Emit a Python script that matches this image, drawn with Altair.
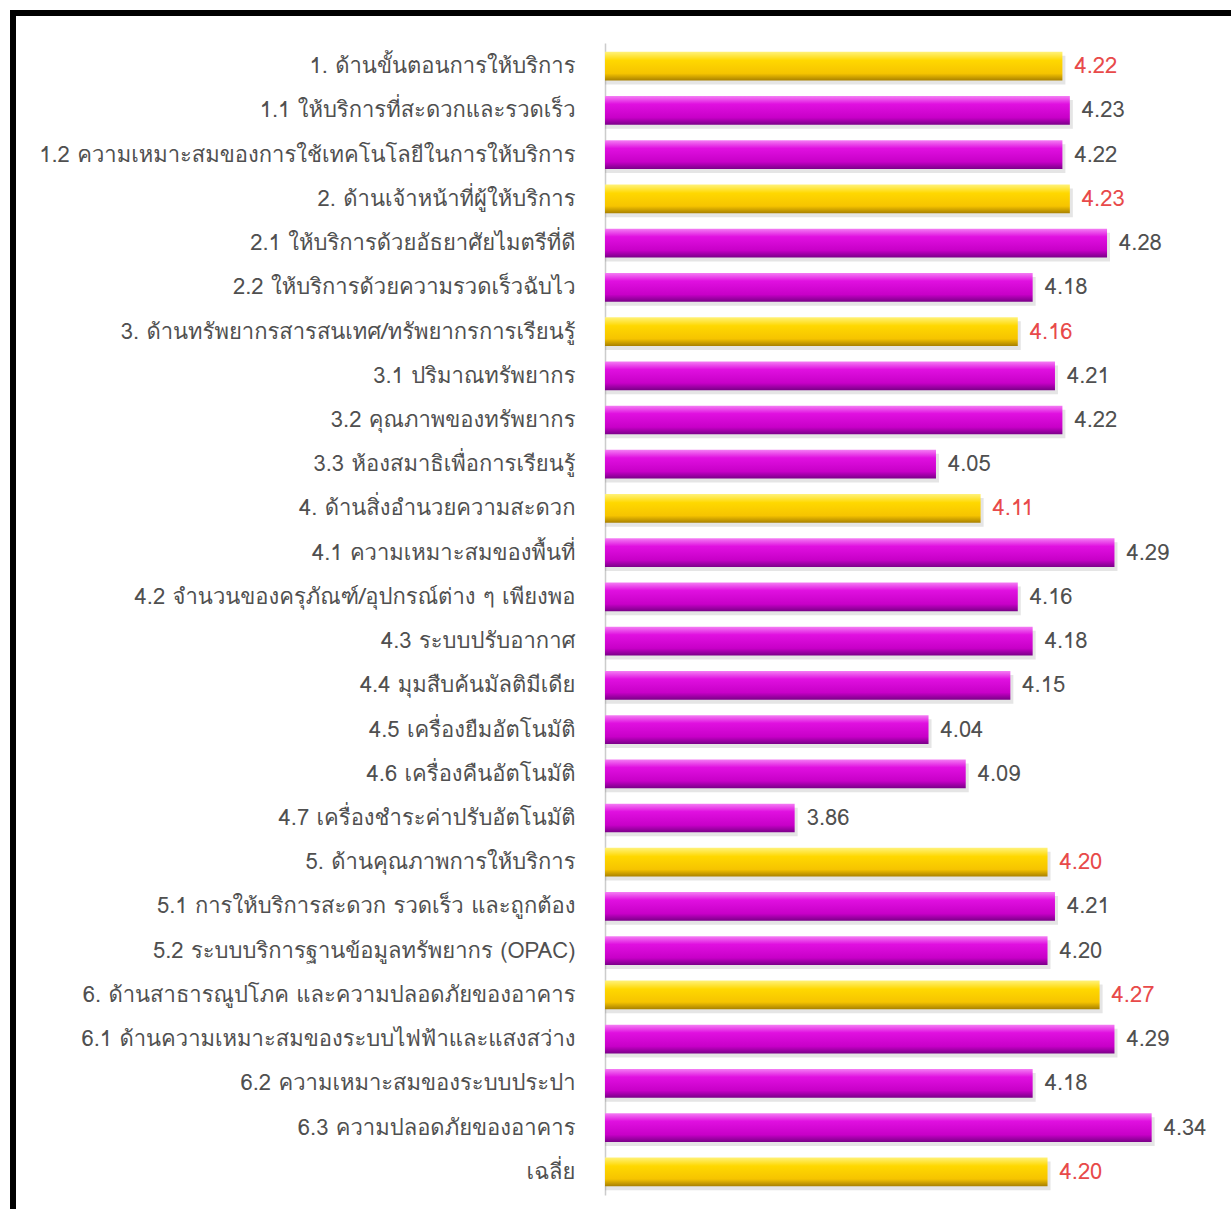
import altair as alt
import pandas as pd

labels = [
    "1. ด้านขั้นตอนการให้บริการ",
    "1.1 ให้บริการที่สะดวกและรวดเร็ว",
    "1.2 ความเหมาะสมของการใช้เทคโนโลยีในการให้บริการ",
    "2. ด้านเจ้าหน้าที่ผู้ให้บริการ ",
    "2.1 ให้บริการด้วยอัธยาศัยไมตรีที่ดี",
    "2.2 ให้บริการด้วยความรวดเร็วฉับไว",
    "3. ด้านทรัพยากรสารสนเทศ/ทรัพยากรการเรียนรู้",
    "3.1 ปริมาณทรัพยากร",
    "3.2 คุณภาพของทรัพยากร",
    "3.3 ห้องสมาธิเพื่อการเรียนรู้",
    "4. ด้านสิ่งอำนวยความสะดวก ",
    "4.1 ความเหมาะสมของพื้นที่",
    "4.2 จำนวนของครุภัณฑ์/อุปกรณ์ต่าง ๆ เพียงพอ",
    "4.3 ระบบปรับอากาศ",
    "4.4 มุมสืบค้นมัลติมีเดีย",
    "4.5 เครื่องยืมอัตโนมัติ",
    "4.6 เครื่องคืนอัตโนมัติ",
    "4.7 เครื่องชำระค่าปรับอัตโนมัติ",
    "5. ด้านคุณภาพการให้บริการ ",
    "5.1 การให้บริการสะดวก รวดเร็ว และถูกต้อง",
    "5.2 ระบบบริการฐานข้อมูลทรัพยากร (OPAC)",
    "6. ด้านสาธารณูปโภค และความปลอดภัยของอาคาร ",
    "6.1 ด้านความเหมาะสมของระบบไฟฟ้าและแสงสว่าง",
    "6.2 ความเหมาะสมของระบบประปา",
    "6.3 ความปลอดภัยของอาคาร",
    "เฉลี่ย",
]
values = [4.22, 4.23, 4.22, 4.23, 4.28, 4.18, 4.16, 4.21, 4.22, 4.05,
          4.11, 4.29, 4.16, 4.18, 4.15, 4.04, 4.09, 3.86, 4.20, 4.21,
          4.20, 4.27, 4.29, 4.18, 4.34, 4.20]
kinds = ["head", "sub", "sub", "head", "sub", "sub", "head", "sub", "sub", "sub",
         "head", "sub", "sub", "sub", "sub", "sub", "sub", "sub", "head", "sub",
         "sub", "head", "sub", "sub", "sub", "head"]

df = pd.DataFrame({"label": labels, "value": values, "kind": kinds})

FONT = "Loma, Garuda, Noto Sans Thai, DejaVu Sans, sans-serif"
W = 595
H = 1152

x = alt.X("value:Q", scale=alt.Scale(domain=[3.605, 4.405], zero=False, nice=False), axis=None)
y = alt.Y("label:N", sort=None, title=None,
          scale=alt.Scale(paddingInner=0.35, paddingOuter=0.2),
          axis=alt.Axis(ticks=False, labelPadding=30, labelFont=FONT, labelFontSize=22,
                        labelColor="#505050", labelLimit=600, domainColor="#cccccc",
                        domainWidth=1.5, grid=False))

base = alt.Chart(df)

shadow = base.mark_bar(color="#888888", opacity=0.22, yOffset=4, xOffset=3).encode(
    x=x, x2=alt.datum(3.605), y=y)

mag_grad = alt.LinearGradient(gradient="linear", x1=0, x2=0, y1=0, y2=1, stops=[
    alt.GradientStop(color="#f47ef4", offset=0),
    alt.GradientStop(color="#e010e0", offset=0.28),
    alt.GradientStop(color="#c800c8", offset=0.75),
    alt.GradientStop(color="#7a0088", offset=1),
])
yel_grad = alt.LinearGradient(gradient="linear", x1=0, x2=0, y1=0, y2=1, stops=[
    alt.GradientStop(color="#fff27a", offset=0),
    alt.GradientStop(color="#ffd800", offset=0.3),
    alt.GradientStop(color="#f6c400", offset=0.75),
    alt.GradientStop(color="#a88000", offset=1),
])

bars_sub = base.transform_filter(alt.datum.kind == "sub").mark_bar(color=mag_grad).encode(
    x=x, x2=alt.datum(3.605), y=y)
bars_head = base.transform_filter(alt.datum.kind == "head").mark_bar(color=yel_grad).encode(
    x=x, x2=alt.datum(3.605), y=y)

text = base.mark_text(align="left", baseline="middle", dx=12, font=FONT, fontSize=22).encode(
    x=x, y=y,
    text=alt.Text("value:Q", format=".2f"),
    color=alt.Color("kind:N", scale=alt.Scale(domain=["head", "sub"], range=["#e84a4a", "#505050"]), legend=None),
)

frame = alt.Chart(alt.Data(values=[{"a": 1}])).mark_rect(
    fill=None, stroke="black", strokeWidth=6).encode(
    x=alt.value(-592), x2=alt.value(640), y=alt.value(-30), y2=alt.value(1180))

chart = alt.layer(shadow, bars_sub, bars_head, text, frame).properties(
    width=W, height=H,
    padding={"left": 605, "top": 43, "right": 31, "bottom": 14},
    autosize=alt.AutoSizeParams(type="none"),
).configure(background="white").configure_view(stroke=None)

chart.save("out.html", embed_options={"renderer": "svg", "actions": False})
